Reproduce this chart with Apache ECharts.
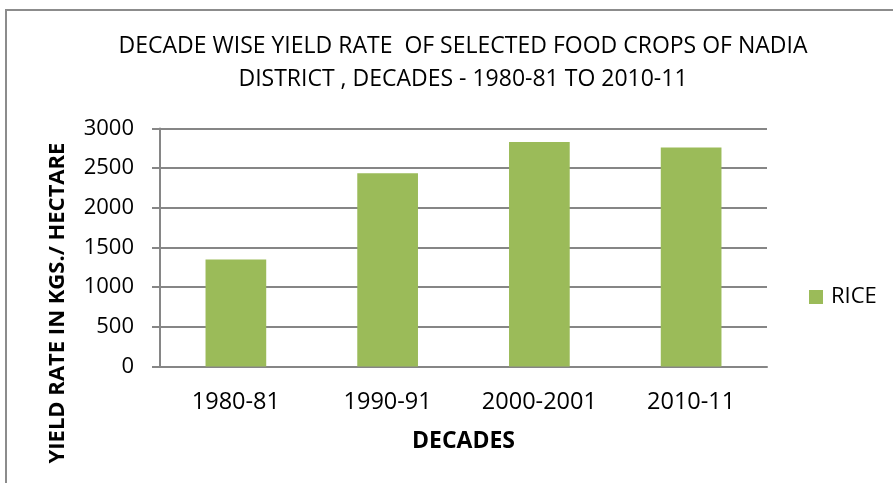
<!DOCTYPE html>
<html>
<head>
<meta charset="utf-8">
<script src="https://cdn.jsdelivr.net/npm/echarts@6/dist/echarts.min.js"></script>
<style>
  html, body { margin: 0; padding: 0; background: #fff; }
  #chart { width: 893px; height: 483px; }
</style>
</head>
<body>
<div id="chart"></div>
<script>
// Rice yield rate of Nadia district by decade (kg per hectare)
const decades = ['1980-81', '1990-91', '2000-2001', '2010-11'];
const riceYield = [1350, 2435, 2830, 2760];
const yTicks = [0, 500, 1000, 1500, 2000, 2500, 3000];

const FONT = "'Open Sans', 'Noto Sans', sans-serif";
const chart = echarts.init(document.getElementById('chart'));

chart.setOption({
  animation: false,
  backgroundColor: '#fff',
  title: {
    text: 'DECADE WISE YIELD RATE  OF SELECTED FOOD CROPS OF NADIA\nDISTRICT , DECADES - 1980-81 TO 2010-11',
    left: 458,
    top: 25,
    textAlign: 'center',
    textStyle: {
      fontFamily: FONT,
      fontWeight: 'normal',
      fontSize: 23,
      lineHeight: 33,
      color: '#000'
    }
  },
  legend: {
    data: ['RICE'],
    left: 809,
    top: 286,
    padding: 0,
    icon: 'rect',
    itemWidth: 14,
    itemHeight: 14,
    textStyle: { fontFamily: FONT, fontSize: 22, color: '#000', padding: [0, 0, 0, 3] }
  },
  grid: { left: 160, right: 126, top: 128.5, bottom: 116.5, containLabel: false },
  xAxis: {
    type: 'category',
    data: decades,
    name: 'DECADES',
    nameLocation: 'middle',
    nameGap: 63,
    nameTextStyle: { fontFamily: FONT, fontWeight: 'bold', fontSize: 23, color: '#000' },
    axisLine: { lineStyle: { color: '#868686', width: 2 } },
    axisTick: { show: false },
    axisLabel: { fontFamily: FONT, fontSize: 23.5, color: '#000', margin: 24 }
  },
  yAxis: {
    type: 'value',
    min: yTicks[0],
    max: yTicks[yTicks.length - 1],
    interval: yTicks[1] - yTicks[0],
    axisLine: { show: true, lineStyle: { color: '#868686', width: 2 } },
    axisTick: { show: true, length: 8, lineStyle: { color: '#868686', width: 2 } },
    axisLabel: {
      fontFamily: FONT,
      fontSize: 22,
      color: '#000',
      margin: 26,
      formatter: (v) => String(v)
    },
    splitLine: { lineStyle: { color: '#868686', width: 2 } }
  },
  graphic: [
    {
      type: 'rect',
      silent: true,
      z: -1,
      shape: { x: 6, y: 10, width: 900, height: 490 },
      style: { fill: 'none', stroke: '#8c8c8c', lineWidth: 2 }
    },
    {
      type: 'text',
      silent: true,
      x: 58,
      y: 303,
      rotation: Math.PI / 2,
      style: {
        text: 'YIELD RATE IN KGS./ HECTARE',
        fontFamily: FONT,
        fontWeight: 'bold',
        fontSize: 22,
        fill: '#000',
        align: 'center',
        verticalAlign: 'middle'
      }
    }
  ],
  series: [
    {
      name: 'RICE',
      type: 'bar',
      data: riceYield,
      barCategoryGap: '60%',
      itemStyle: { color: '#9BBB59' }
    }
  ]
});
</script>
</body>
</html>
